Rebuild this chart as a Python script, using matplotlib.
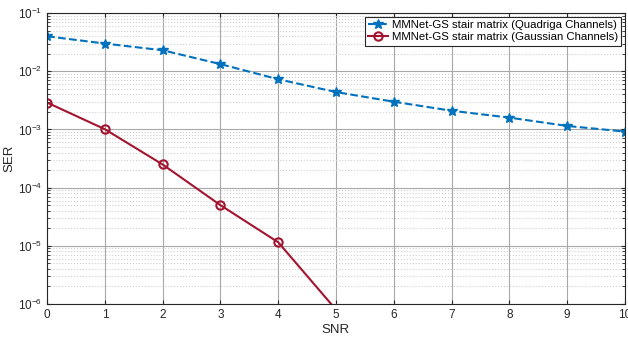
import matplotlib
matplotlib.use('Agg')
import matplotlib.pyplot as plt
import numpy as np
from matplotlib.ticker import LogLocator, NullFormatter

plt.rcParams['font.family'] = ['Liberation Sans', 'DejaVu Sans']

snr = [0, 1, 2, 3, 4, 5, 6, 7, 8, 9, 10]
ser_quadriga = [0.040, 0.030, 0.023, 0.0133, 0.0073, 0.0044, 0.0030, 0.0021, 0.0016, 0.00115, 0.00092]
snr_gauss = [0, 1, 2, 3, 4, 5]
ser_gauss = [0.0029, 0.00101, 0.00025, 5.0e-5, 1.15e-5, 8.0e-7]

label_q = 'MMNet-GS stair matrix (Quadriga Channels)'
label_g = 'MMNet-GS stair matrix (Gaussian Channels)'

fig = plt.figure(figsize=(6.28, 3.37), dpi=100)
ax = fig.add_axes([0.075, 0.098, 0.920, 0.863])

ax.semilogy(snr, ser_quadriga, '--', color='#0072BD', marker='*', markersize=7,
            linewidth=1.5, label=label_q)
ax.semilogy(snr_gauss, ser_gauss, '-', color='#A2142F', marker='o', markersize=6,
            markerfacecolor='none', markeredgewidth=1.5, linewidth=1.5, label=label_g)

ax.set_xlim(0, 10)
ax.set_ylim(1e-6, 1e-1)
ax.set_xticks(range(0, 11))
ax.yaxis.set_major_locator(LogLocator(base=10, numticks=10))
ax.yaxis.set_minor_locator(LogLocator(base=10, subs=np.arange(2, 10), numticks=20))
ax.yaxis.set_minor_formatter(NullFormatter())

ax.grid(True, which='major', color='#a8a8a8', linewidth=0.8)
ax.grid(True, which='minor', axis='y', color='#d0d0d0', linestyle=':', linewidth=0.8)
ax.tick_params(which='both', direction='in', top=True, right=True, labelsize=8.5, colors='#262626')
ax.tick_params(which='major', length=3)
ax.tick_params(which='minor', length=2)
for s in ax.spines.values():
    s.set_color('#262626')
    s.set_linewidth(0.8)

ax.set_xlabel('SNR', fontsize=9.5, color='#262626', labelpad=2)
ax.set_ylabel('SER', fontsize=9.5, color='#262626', labelpad=2)

leg = ax.legend(loc='upper right', fontsize=8.2, fancybox=False, framealpha=1,
                edgecolor='#262626', borderpad=0.3, labelspacing=0.2,
                handlelength=1.8, handletextpad=0.3, borderaxespad=0.3)
leg.get_frame().set_linewidth(0.8)

fig.savefig('out.png', dpi=100)
